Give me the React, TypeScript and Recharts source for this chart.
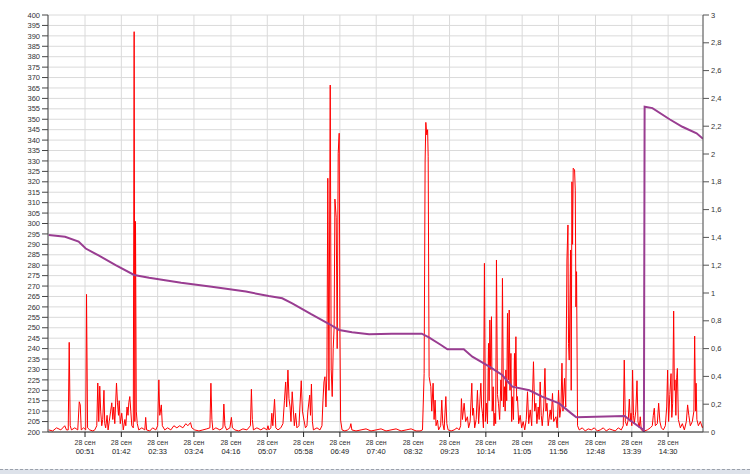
import React from 'react';
import { ComposedChart, Line, XAxis, YAxis, CartesianGrid } from 'recharts';

// X axis ticks (minutes since 00:00 on 28 Sep)
const xTickMinutes = [51, 102, 153, 204, 256, 307, 358, 409, 460, 512, 563, 614, 665, 716, 768, 819, 870];
const xTickTimes = ['00:51', '01:42', '02:33', '03:24', '04:16', '05:07', '05:58', '06:49', '07:40', '08:32', '09:23', '10:14', '11:05', '11:56', '12:48', '13:39', '14:30'];
const xTickDate = '28 сен';

const leftTicks = [200, 205, 210, 215, 220, 225, 230, 235, 240, 245, 250, 255, 260, 265, 270, 275, 280, 285, 290, 295, 300, 305, 310, 315, 320, 325, 330, 335, 340, 345, 350, 355, 360, 365, 370, 375, 380, 385, 390, 395, 400];
const rightTicks = [0, 0.2, 0.4, 0.6, 0.8, 1, 1.2, 1.4, 1.6, 1.8, 2, 2.2, 2.4, 2.6, 2.8, 3];

// Red series (left axis)
const redTimes = [
  0, 5.6, 11, 17, 22.5, 25, 27.4, 28.8, 30.2, 32, 36.6, 40.8, 42.9, 44.3, 45.7, 49, 52, 53.1, 54.6, 57.6, 62, 64.7, 67.5, 68.9, 70.3, 71.7, 73, 74.5, 75.9, 77.6, 78.7, 80, 82, 83.4, 85, 87, 88.6, 90, 91.4, 92.8, 95.2, 96.6, 98, 99, 100.5, 102.6, 104.7, 107, 108.3, 110, 111.4, 112.5, 113.9, 115.3, 116.7, 118.8, 120, 121, 121.9, 123, 124.4, 126.5, 130.8, 135, 136.2, 137.5, 142, 146, 150.4, 153, 154.7, 156, 158.2, 159.6, 163, 167, 171.5, 175.8, 180, 184,
  188.4, 192.6, 195.4, 199.2, 201, 205, 211, 216.5, 222, 226.4, 227.8, 229.2, 230.6, 234.8, 240.4, 244.7, 246, 247.5, 250, 254.5, 256.6, 258, 261.5, 267, 272.8, 278.4, 283.3, 284.7, 286, 287.5, 292.4, 298, 302.3, 306.5, 308, 309.3, 312, 313.4, 314.8, 317.2, 319, 322, 326, 329, 331.1, 332.8, 334.2, 336, 337.5, 339, 340.3, 342, 343.5, 345, 346.8, 348.6, 351.5, 354.7, 356.4, 358.5, 360.6, 362.7, 364, 366.6, 367.7,
  369, 370.4, 371.8, 376.8, 381, 383.8, 385.2, 386.6, 388, 389.4, 390.8, 392, 393.6, 395.4, 396.8, 398.2, 399.6, 400.9, 402, 403.8, 405.2, 406.6, 408, 409, 410, 412, 416, 420, 423, 424.4, 425.8, 431.6, 438.7, 445.7, 452.7, 459.8, 466.8, 473.8, 480.8, 487.9, 495, 502, 509, 516, 521.6, 525, 527.3, 528.7, 529.7, 531, 532.2, 533, 534.3, 536.7, 538, 539.9, 541.3, 542.7, 544, 546, 547.6,
  550.5, 552.1, 553.5, 555.4, 557.8, 559.2, 561, 565.2, 569.4, 573.6, 576.5, 578.6, 579.7, 581.1, 583.5, 585.6, 588.1, 589.8, 591.9, 594.3, 595.4, 596.6, 598.3, 600.4, 602.2, 603.9, 607, 608.1, 609.2, 610.6, 612, 613.3, 614.8, 616.3, 617.7, 618.6, 619.6, 620.7, 621.9, 622.9, 624.3, 625.4, 626.7, 627.8, 628.9, 630.3, 631.7, 633.4, 635.1, 636.2, 637.3, 638.7, 640.2, 641.1, 642.1, 643.3, 644.4, 645.6, 646.8, 647.9, 649.2, 650.3, 651.4, 652.8, 654.2, 655.2, 656.2, 657.3, 658.4, 660.1, 662.2, 664.3, 666.4, 668.6, 670.7, 672.5, 674.2, 676.3, 678.4, 680.9, 682.6, 684.3, 685.7, 687.5, 688.9, 690.3, 691.8, 693.2, 695.3, 697, 698.4, 699.8, 701.6, 704.4, 705.8, 707.6, 709.3, 712.4, 714.2, 716.1, 717.8, 719.5, 720.9, 722.3, 724.5, 726.2, 727.9, 729.3, 730.1, 731.1, 733, 733.9,
  734.9, 735.8, 736.7, 738.6, 739.6, 740.5, 741.4, 742.8, 745.2, 749.4, 753.6, 757.8, 762.1, 766.3, 770.5, 774.7, 778.9, 783.1, 787.4, 791.6, 795.8, 800, 804.2, 807, 808.4, 809.9, 812, 814.1, 815.5, 816.9, 817.9, 819, 820.1, 821.4, 822.5, 824.6, 826.3, 827.7, 829.5, 830.9, 832.3, 836.6, 840.8, 845, 847.8, 849.2, 850.6, 852, 854.8, 856.7, 858.4, 860.5, 863.3, 866.1, 868, 869.3, 870.7, 872.4, 874.1, 875.2, 876.4, 877.8, 878.8, 879.7, 880.9, 882, 883, 884.4, 887.2, 890, 892.8, 895.6, 897.4, 899.1, 901.2, 904, 906.2, 907.3, 908.6, 909.3, 910.4, 912.5, 915.3, 918.2, 919
];
const redValues = [
  201, 200.5, 202, 201, 203, 201, 201, 243, 203, 201, 202, 201, 214.5, 213, 201, 202, 201, 266, 202, 201, 200.5, 201, 203, 223.5, 205, 222, 210, 203, 206, 220, 204, 202, 208, 201, 205, 210, 214, 206, 212, 204, 223.5, 214, 208, 215, 204, 209, 201, 206, 203, 212, 208, 214, 217, 210, 203, 202, 392, 205, 301, 210, 204, 201, 202, 201, 207, 201, 200.5, 202, 201, 203, 225, 208, 213, 203, 201, 202, 201, 203, 202, 203,
  202, 204, 203, 204.5, 202, 201, 200.5, 201, 201.5, 202, 223.4, 206, 201, 202, 201, 202, 213.4, 203, 201, 202, 207, 202, 201, 200.5, 201.5, 201, 203, 220.5, 206, 201, 202, 201, 202, 201, 203, 201, 202, 209, 203, 215.7, 202, 201, 202, 204, 215, 224, 212, 229.7, 216, 212, 205, 219.3, 211, 203, 209, 202, 203, 224.6, 210, 205.7, 202, 203, 210, 217.7, 208,
  223, 205, 201, 202, 201, 203, 215, 224, 226.5, 212, 230, 321.7, 220, 366.4, 230, 217, 240, 250, 311.7, 303, 240, 333.7, 343.3, 250, 205.7, 201, 200.5, 201, 202, 204, 201, 200.5, 201, 201.5, 200.5, 201, 201.5, 200.5, 201, 201.5, 200.5, 201, 201.5, 200.5, 200.5, 201, 228, 330, 348.5, 342.5, 345, 332, 226.5, 221.7, 210, 223.4, 206, 215.3, 203, 205.7, 201,
  203, 215.3, 204, 201, 217, 204, 201, 200.5, 201, 202, 201, 203, 216, 206, 213.8, 205, 207.3, 202, 205, 223.4, 208, 211.4, 202, 206, 220, 204, 223.4, 212, 209, 202, 280.9, 205, 213.8, 204, 242.5, 215, 253.7, 230, 255.3, 210, 221.7, 203, 209, 204, 282.5, 218, 213.8, 206, 225, 215, 273.7, 212, 221.7, 210, 229.7, 215, 256.9, 225, 258.5, 220, 237.7, 205, 216.9, 206, 237.7, 222, 245.7, 215, 217, 204, 208, 202, 205, 201, 206, 219.3, 204, 210.6, 203, 233.7, 210, 213.8, 204, 212, 206, 224, 208, 203, 212, 230.5, 210, 213.8, 203, 210.6, 206, 218.5, 205, 207.3, 202, 220, 207, 212, 233, 210, 225.7, 212, 282.5, 299.3, 242.5, 234.5, 287.3, 220,
  320, 290, 326.5, 325.7, 316, 260, 276.9, 203, 201, 202, 200.5, 201.5, 201, 202, 200.5, 201, 202, 200.5, 201.5, 201, 200.5, 202, 201, 203, 234.5, 205, 203, 206, 215.8, 205, 209, 203, 229.7, 208, 204, 210, 224.6, 205, 202, 207.3, 201, 200.5, 201, 202, 203, 208, 211.4, 203, 204, 213.8, 205, 202, 201, 203, 212, 229.7, 205, 218, 228, 207, 213.8, 258, 220, 225, 208, 226, 230.5, 206, 202, 204, 201, 205, 213, 208, 203, 205, 210, 246, 210, 223.4, 206, 203, 205, 202, 203
];

// Purple series (right axis)
const purpleTimes = [0, 23, 42, 52, 70, 94, 120, 141, 186, 229, 277, 309, 328, 342, 368, 394, 408, 426, 450, 482, 524, 534, 551, 560, 583, 595, 619, 637, 651, 675, 693, 717, 734, 741, 809, 816, 834, 836, 837, 848, 872, 890, 910, 919];
const purpleValues = [1.417, 1.405, 1.37, 1.32, 1.27, 1.2, 1.13, 1.11, 1.074, 1.045, 1.01, 0.978, 0.962, 0.926, 0.849, 0.777, 0.734, 0.717, 0.703, 0.707, 0.707, 0.681, 0.626, 0.595, 0.595, 0.542, 0.47, 0.41, 0.326, 0.3, 0.254, 0.206, 0.134, 0.106, 0.115, 0.086, 0.02, 0, 2.34, 2.33, 2.25, 2.196, 2.149, 2.11];

const redData = redTimes.map((t, i) => ({ t, v: redValues[i] }));
const purpleData = purpleTimes.map((t, i) => ({ t, p: purpleValues[i] }));

const AXIS_FONT = 'Liberation Sans, Arial, sans-serif';

const XTick = (props: any) => {
  const { x, y, payload } = props;
  const idx = xTickMinutes.indexOf(payload.value);
  return (
    <g>
      <text x={x} y={y + 6} textAnchor="middle" fontSize={7} fontFamily={AXIS_FONT} fill="#333">{xTickDate}</text>
      <text x={x} y={y + 15} textAnchor="middle" fontSize={7.5} fontFamily={AXIS_FONT} fill="#222">{idx >= 0 ? xTickTimes[idx] : ''}</text>
    </g>
  );
};

const fmtRight = (v: number) => String(v).replace('.', ',');

export default function App() {
  return (
    <div style={{ position: 'absolute', left: 0, top: 0, width: 750, height: 474, background: '#fff', overflow: 'hidden' }}>
      <ComposedChart width={750} height={474} margin={{ top: 15, right: 0, bottom: 12, left: 0 }}>
        <CartesianGrid yAxisId="left" stroke="#dadada" strokeWidth={1} />
        <XAxis
          dataKey="t"
          type="number"
          domain={[-1, 919]}
          allowDataOverflow
          ticks={xTickMinutes}
          interval={0}
          height={30}
          tick={<XTick />}
          tickSize={5}
          tickMargin={2}
          stroke="#222"
        />
        <YAxis
          yAxisId="left"
          orientation="left"
          domain={[200, 400]}
          ticks={leftTicks}
          interval={0}
          width={48}
          tickSize={6}
          tickMargin={2}
          stroke="#444"
          tick={{ fontSize: 7.5, fontFamily: AXIS_FONT, fill: '#333' }}
          allowDataOverflow
        />
        <YAxis
          yAxisId="right"
          orientation="right"
          domain={[0, 3]}
          ticks={rightTicks}
          interval={0}
          width={47}
          tickSize={6}
          tickMargin={2}
          stroke="#555"
          tickFormatter={fmtRight}
          tick={{ fontSize: 7.5, fontFamily: AXIS_FONT, fill: '#333' }}
          allowDataOverflow
        />
        <Line
          yAxisId="left"
          data={redData}
          dataKey="v"
          type="linear"
          stroke="#ff0000"
          strokeWidth={1}
          dot={false}
          activeDot={false}
          isAnimationActive={false}
        />
        <Line
          yAxisId="right"
          data={purpleData}
          dataKey="p"
          type="linear"
          stroke="#993d91"
          strokeWidth={2}
          dot={false}
          activeDot={false}
          isAnimationActive={false}
        />
      </ComposedChart>
      <div style={{ position: 'absolute', left: 0, top: 469, width: 750, height: 5, borderTop: '1px dashed #9aa0aa', background: '#dde2ea' }} />
    </div>
  );
}
